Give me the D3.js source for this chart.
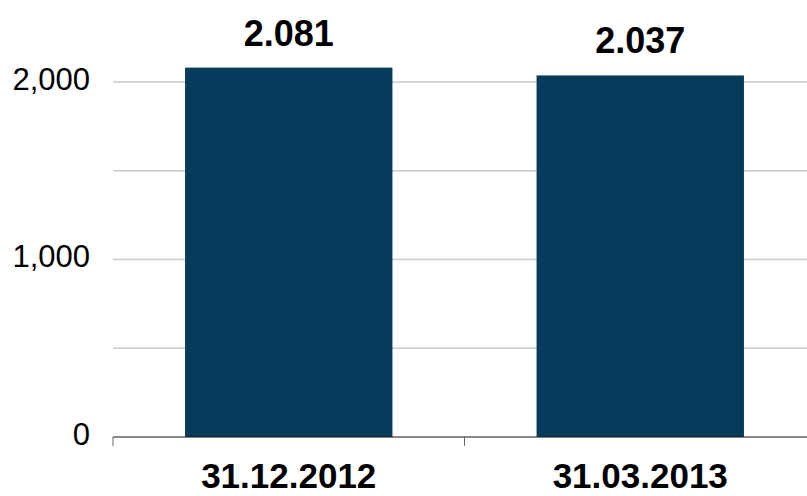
<!DOCTYPE html>
<html>
   <head>
      <title>Bestand</title>
      <style>
         body { margin: 0; background: #fff; }
         text { font-family: "Liberation Sans", Arial, sans-serif; fill: #000; }
         .grid line { stroke: #cacaca; stroke-width: 1.5px; }
         .bar { fill: #073b5c; }
         .ylabel { font-size: 31px; }
         .xlabel { font-size: 35px; font-weight: bold; }
         .value { font-size: 36px; font-weight: bold; }
      </style>
      <script src="https://d3js.org/d3.v7.min.js"></script>
   </head>
   <body>
      <script>
         // data
         var categories = ["31.12.2012", "31.03.2013"];
         var values = [2081, 2037];
         var gridTicks = [0, 500, 1000, 1500, 2000];
         var labelTicks = [0, 1000, 2000];

         var w = 807;
         var h = 496;
         var left = 113;
         var right = 816;   // plot runs a little past the window edge
         var base = 437;

         var svg = d3.select("body").append("svg")
            .attr("width", w)
            .attr("height", h);

         var x = d3.scaleBand()
            .domain(categories)
            .range([left, right])
            .paddingInner(0.41)
            .paddingOuter(0.205);

         var y = d3.scaleLinear()
            .domain([0, 2000])
            .range([base, 82]);

         // thousands with comma on the axis, with a dot on the bar labels
         var axisFmt = d3.format(",");
         var deFmt = d3.formatLocale({decimal: ",", thousands: ".", grouping: [3], currency: ["", " €"]}).format(",");

         // gridlines
         svg.append("g")
            .attr("class", "grid")
            .selectAll("line")
            .data(gridTicks.filter(function(d) { return d > 0; }))
            .enter()
            .append("line")
            .attr("x1", left)
            .attr("x2", w)
            .attr("y1", function(d) { return y(d); })
            .attr("y2", function(d) { return y(d); });

         // y labels
         svg.selectAll(".ylabel")
            .data(labelTicks)
            .enter()
            .append("text")
            .attr("class", "ylabel")
            .attr("x", 90)
            .attr("y", function(d) { return y(d) - 3; })
            .attr("dy", "0.35em")
            .style("text-anchor", "end")
            .text(function(d) { return axisFmt(d); });

         // bars
         svg.selectAll(".bar")
            .data(values)
            .enter()
            .append("rect")
            .attr("class", "bar")
            .attr("x", function(d, i) { return x(categories[i]); })
            .attr("y", function(d) { return y(d); })
            .attr("width", x.bandwidth())
            .attr("height", function(d) { return base - y(d); });

         // baseline with ticks between categories
         svg.append("line")
            .attr("x1", left)
            .attr("x2", w)
            .attr("y1", base)
            .attr("y2", base)
            .style("stroke", "#111")
            .style("stroke-width", 1.2);

         svg.selectAll(".tick")
            .data(categories)
            .enter()
            .append("line")
            .attr("class", "tick")
            .attr("x1", function(d) { return x(d) - x.step() * x.paddingOuter(); })
            .attr("x2", function(d) { return x(d) - x.step() * x.paddingOuter(); })
            .attr("y1", base)
            .attr("y2", base + 9)
            .style("stroke", "#666")
            .style("stroke-width", 1);

         // category labels
         svg.selectAll(".xlabel")
            .data(categories)
            .enter()
            .append("text")
            .attr("class", "xlabel")
            .attr("x", function(d) { return x(d) + x.bandwidth() / 2; })
            .attr("y", 488)
            .style("text-anchor", "middle")
            .text(function(d) { return d; });

         // value labels above bars
         svg.selectAll(".value")
            .data(values)
            .enter()
            .append("text")
            .attr("class", "value")
            .attr("x", function(d, i) { return x(categories[i]) + x.bandwidth() / 2; })
            .attr("y", function(d) { return y(d) - 22; })
            .style("text-anchor", "middle")
            .text(function(d) { return deFmt(d); });
      </script>
   </body>
</html>
